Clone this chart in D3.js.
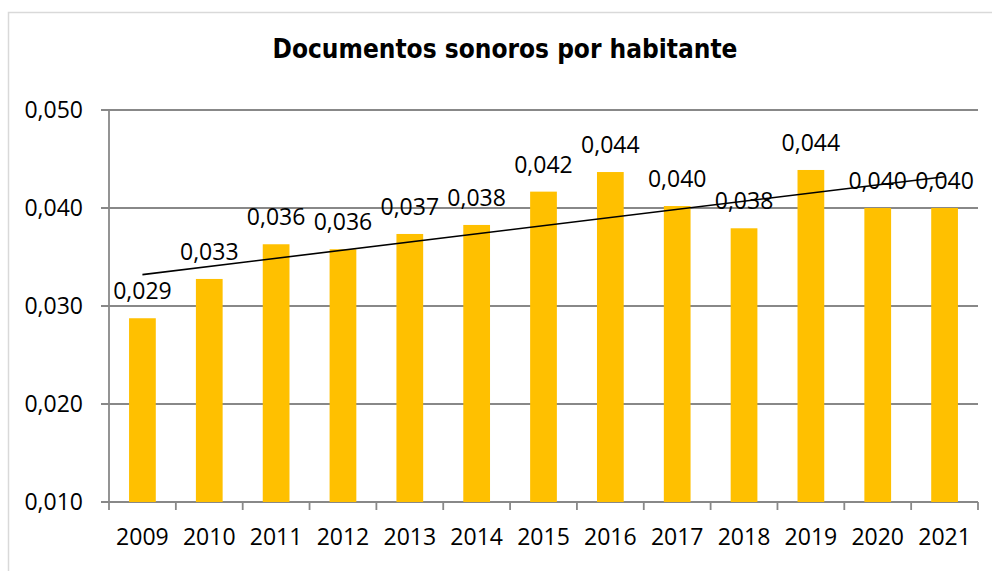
<!DOCTYPE html>
<html>
<head>
<meta charset="utf-8">
<script src="https://cdn.jsdelivr.net/npm/d3@7"></script>
<style>
  body { margin: 0; background: #fff; }
  svg { display: block; }
</style>
</head>
<body>
<script>
// data
let years = ["2009", "2010", "2011", "2012", "2013", "2014", "2015", "2016", "2017", "2018", "2019", "2020", "2021"];
let values = [0.02875, 0.03276, 0.0363, 0.03579, 0.03735, 0.03827, 0.04167, 0.04367, 0.0402, 0.03793, 0.04388, 0.0400, 0.0400];
let y_ticks = [0.010, 0.020, 0.030, 0.040, 0.050];
let title = "Documentos sonoros por habitante";

// color
let color_bar = "#ffc000";
let color_grid = "#888888";
let color_border = "#d9d9d9";

// size
let width = 992;
let height = 571;
let margin = {top: 110, right: 14, bottom: 69, left: 109};
let font = "'Open Sans', sans-serif";
let font_size = "23px";

let locale = d3.formatLocale({decimal: ",", thousands: ".", grouping: [3], currency: ["", ""]});
let f = locale.format(".3f");

let svg = d3.select("body")
            .append("svg")
            .attr("width", width)
            .attr("height", height);

// chart area border
svg.append("rect")
   .attr("x", 8.5)
   .attr("y", 12.5)
   .attr("width", 1000)
   .attr("height", 600)
   .style("fill", "none")
   .style("stroke", color_border)
   .style("stroke-width", 1.5);

svg.append("text")
   .attr("x", 505)
   .attr("y", 58)
   .attr("text-anchor", "middle")
   .style("font-family", "'DejaVu Sans Condensed', 'DejaVu Sans', sans-serif")
   .style("font-weight", "bold")
   .style("font-size", "26px")
   .text(title);

let x = d3.scaleBand()
          .domain(years)
          .range([margin.left, width - margin.right])
          .paddingInner(0.6)
          .paddingOuter(0.3);

let y = d3.scaleLinear()
          .domain([0.010, 0.050])
          .range([height - margin.bottom, margin.top]);

let step = x.step();
let x_left = margin.left;
let x_right = width - margin.right;

// gridlines + y ticks
svg.selectAll(".grid")
   .data(y_ticks)
   .enter()
   .append("line")
   .attr("x1", x_left - 8)
   .attr("x2", x_right)
   .attr("y1", d => y(d))
   .attr("y2", d => y(d))
   .style("stroke", color_grid)
   .style("stroke-width", 1.8);

svg.selectAll(".ylabel")
   .data(y_ticks)
   .enter()
   .append("text")
   .attr("x", 83)
   .attr("y", d => y(d))
   .attr("dy", "0.36em")
   .attr("text-anchor", "end")
   .style("font-family", font)
   .style("font-size", font_size)
   .text(d => f(d));

// y axis line
svg.append("line")
   .attr("x1", x_left)
   .attr("x2", x_left)
   .attr("y1", y(0.050))
   .attr("y2", y(0.010) + 8)
   .style("stroke", color_grid)
   .style("stroke-width", 1.8);

// x ticks at category edges
let edges = years.map(d => x(d) - step * 0.3).concat([x_right]);
svg.selectAll(".xtick")
   .data(edges.slice(1))
   .enter()
   .append("line")
   .attr("x1", d => d)
   .attr("x2", d => d)
   .attr("y1", y(0.010))
   .attr("y2", y(0.010) + 8)
   .style("stroke", color_grid)
   .style("stroke-width", 1.8);

svg.selectAll(".xlabel")
   .data(years)
   .enter()
   .append("text")
   .attr("x", d => x(d) + x.bandwidth() / 2)
   .attr("y", 545)
   .attr("text-anchor", "middle")
   .style("font-family", font)
   .style("font-size", font_size)
   .text(d => d);

// bars
svg.selectAll(".bar")
   .data(values)
   .enter()
   .append("rect")
   .attr("x", (d, i) => x(years[i]))
   .attr("y", d => y(d))
   .attr("width", x.bandwidth())
   .attr("height", d => y(0.010) - y(d))
   .style("fill", color_bar);

// linear trend line
let n = values.length;
let mean_x = (n - 1) / 2;
let mean_y = d3.mean(values);
let sxy = d3.sum(values, (d, i) => (i - mean_x) * (d - mean_y));
let sxx = d3.sum(values, (d, i) => (i - mean_x) * (i - mean_x));
let slope = sxy / sxx;
let intercept = mean_y - slope * mean_x;

let line = d3.line()
             .x(d => x(years[d]) + x.bandwidth() / 2)
             .y(d => y(intercept + slope * d));

svg.append("path")
   .attr("d", line([0, n - 1]))
   .style("fill", "none")
   .style("stroke", "black")
   .style("stroke-width", 1.6);

// data labels
svg.selectAll(".label")
   .data(values)
   .enter()
   .append("text")
   .attr("x", (d, i) => x(years[i]) + x.bandwidth() / 2)
   .attr("y", d => y(d) - 19)
   .attr("text-anchor", "middle")
   .style("font-family", font)
   .style("font-size", font_size)
   .text(d => f(d));
</script>
</body>
</html>
